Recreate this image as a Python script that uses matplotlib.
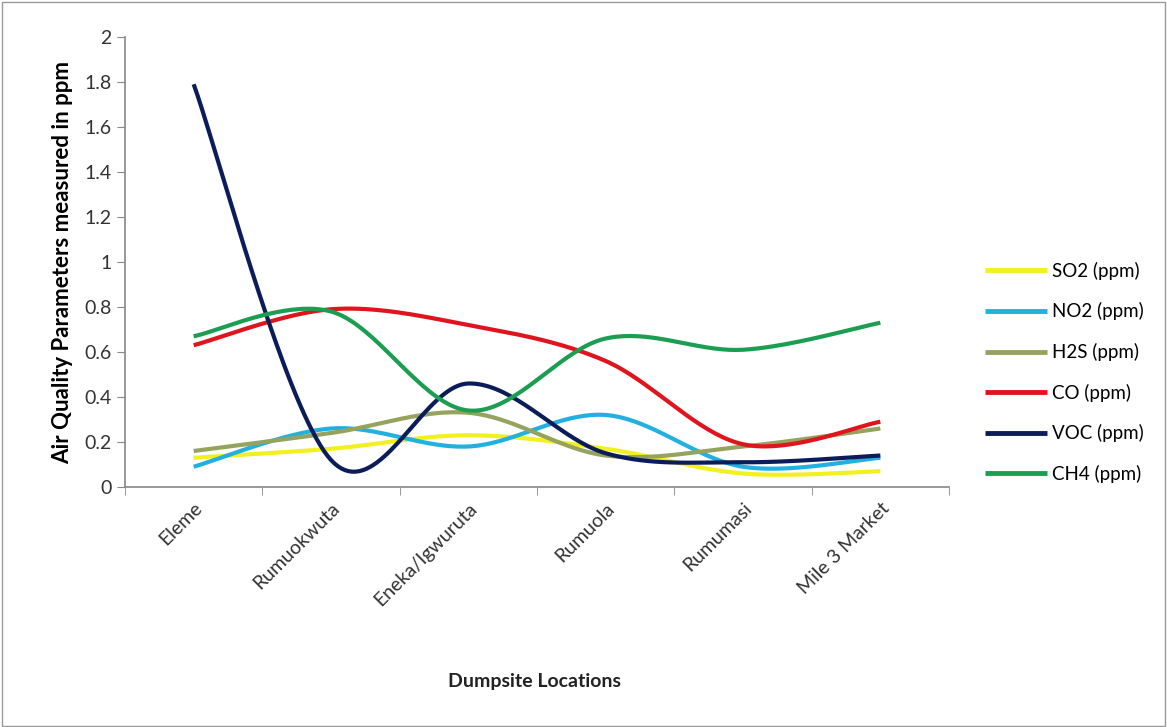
import numpy as np
import matplotlib
matplotlib.use("Agg")
import matplotlib.pyplot as plt
from matplotlib.patches import Rectangle

# dumpsite locations and measured concentrations (ppm)
locations = ["Eleme", "Rumuokwuta", "Eneka/Igwuruta", "Rumuola", "Rumumasi", "Mile 3 Market"]
so2 = [0.13, 0.17, 0.23, 0.17, 0.06, 0.07]
no2 = [0.09, 0.26, 0.18, 0.32, 0.09, 0.13]
h2s = [0.16, 0.24, 0.33, 0.14, 0.18, 0.26]
co = [0.63, 0.79, 0.72, 0.56, 0.19, 0.29]
voc = [1.79, 0.12, 0.46, 0.15, 0.11, 0.14]
ch4 = [0.67, 0.78, 0.34, 0.66, 0.61, 0.73]

series = [
    ("SO2 (ppm)", so2, "#F2F01E"),
    ("NO2 (ppm)", no2, "#22B0E0"),
    ("H2S (ppm)", h2s, "#95A35E"),
    ("CO (ppm)", co, "#E0141C"),
    ("VOC (ppm)", voc, "#0B1C5A"),
    ("CH4 (ppm)", ch4, "#1C9E52"),
]


def smooth(xv, yv, steps=40):
    # Catmull-Rom style bezier through the points, like a spreadsheet "smoothed line"
    p = np.column_stack([xv, yv]).astype(float)
    p = np.vstack([p[0], p, p[-1]])
    out = []
    t = np.linspace(0, 1, steps)[:, None]
    for i in range(1, len(p) - 2):
        p0, p1, p2, p3 = p[i - 1], p[i], p[i + 1], p[i + 2]
        c1 = p1 + (p2 - p0) / 6
        c2 = p2 - (p3 - p1) / 6
        seg = (1 - t) ** 3 * p1 + 3 * (1 - t) ** 2 * t * c1 + 3 * (1 - t) * t ** 2 * c2 + t ** 3 * p2
        out.append(seg if i == 1 else seg[1:])
    out = np.vstack(out)
    return out[:, 0], out[:, 1]


plt.rcParams['font.family'] = ['Lato', 'DejaVu Sans']
fig = plt.figure(figsize=(11.67, 7.27), dpi=100)
ax = fig.add_axes([125 / 1167, 1 - 487 / 727, (949 - 125) / 1167, (487 - 37) / 727])

x = np.arange(len(locations))
for name, vals, col in series:
    sx, sy = smooth(x, vals)
    ax.plot(sx, sy, color=col, lw=3, label=name, solid_capstyle='butt')

ax.set_xlim(-0.5, len(locations) - 0.5)
ax.set_ylim(0, 2)
ax.set_yticks(np.arange(0, 2.01, 0.2))
ax.set_yticklabels(["0", "0.2", "0.4", "0.6", "0.8", "1", "1.2", "1.4", "1.6", "1.8", "2"])
ax.set_xticks(x)
ax.set_xticklabels(locations, rotation=45, ha='right', rotation_mode='anchor', fontsize=14, color="#333333")
ax.set_xticks(np.arange(-0.5, len(locations), 1), minor=True)
ax.tick_params(axis='x', which='major', length=0, pad=9)
ax.tick_params(axis='x', which='minor', length=6, color="#888888", direction='out')
ax.tick_params(axis='y', length=6, color="#888888", labelsize=14, labelcolor="#333333")

for s in ["top", "right"]:
    ax.spines[s].set_visible(False)
for s in ["left", "bottom"]:
    ax.spines[s].set_color("#888888")
    ax.spines[s].set_linewidth(1.2)

ax.set_ylabel("Air Quality Parameters measured in ppm", fontsize=16, fontweight='bold', labelpad=8)
fig.text(535 / 1167, 1 - 681 / 727, "Dumpsite Locations", fontsize=14, fontweight='bold',
         ha='center', va='center', color="#222222")

leg = ax.legend(loc='upper left', bbox_to_anchor=(968 / 1167, 1 - 245 / 727), bbox_transform=fig.transFigure,
                frameon=False, fontsize=13.5, handlelength=3.3, labelspacing=1.2, handletextpad=0.3)
for line in leg.get_lines():
    line.set_linewidth(3.5)

fig.patches.append(Rectangle((0.002, 0.002), 0.996, 0.995, transform=fig.transFigure,
                             fill=False, edgecolor="#999999", lw=1))

fig.savefig("out.png", dpi=100)
